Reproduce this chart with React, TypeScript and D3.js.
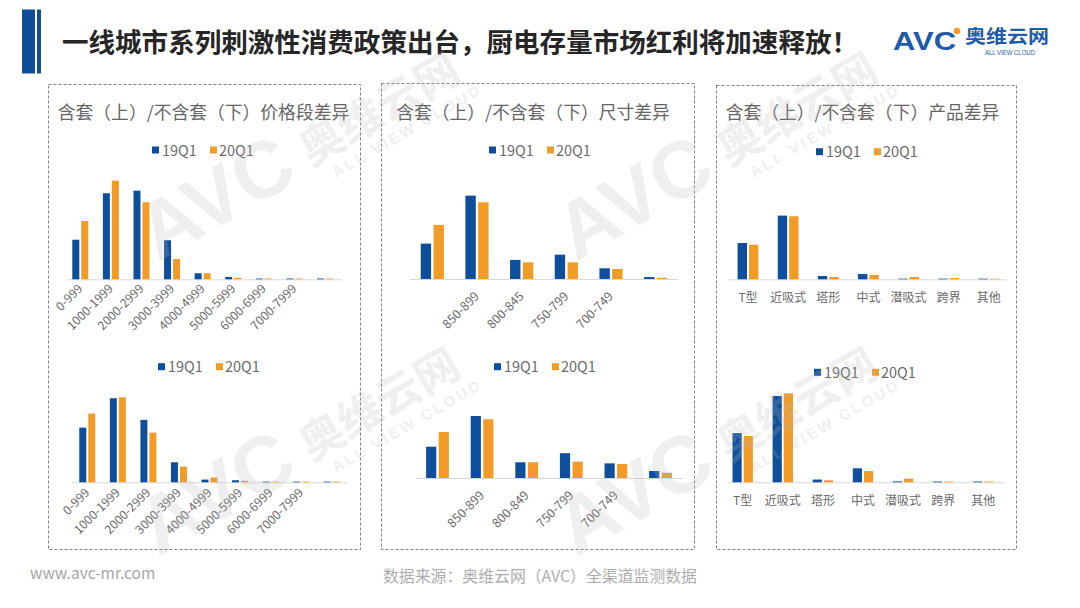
import React from "react";
import * as d3 from "d3";

// ---------- data ----------
const seriesNames = ["19Q1", "20Q1"];

const priceCats = ["0-999", "1000-1999", "2000-2999", "3000-3999", "4000-4999", "5000-5999", "6000-6999", "7000-7999", ""];
const priceTop19 = [15.0, 32.6, 33.6, 14.8, 2.3, 0.9, 0.3, 0.3, 0.3];
const priceTop20 = [22.1, 37.4, 29.2, 7.7, 2.3, 0.6, 0.3, 0.3, 0.3];
const priceBottom19 = [24.0, 36.9, 27.4, 8.8, 1.2, 0.9, 0.3, 0.3, 0.3];
const priceBottom20 = [30.2, 37.3, 21.8, 6.9, 2.1, 0.7, 0.3, 0.3, 0.3];

const sizeCatsTop = ["", "850-899", "800-845", "750-799", "700-749", ""];
const sizeCatsBottom = ["", "850-899", "800-849", "750-799", "700-749", ""];
const sizeTop19 = [20.2, 47.6, 10.9, 13.9, 6.1, 1.1];
const sizeTop20 = [30.9, 43.8, 9.5, 9.5, 5.7, 0.7];
const sizeBottom19 = [20.1, 39.8, 10.1, 15.9, 9.4, 4.5];
const sizeBottom20 = [29.5, 37.7, 10.1, 10.5, 9.0, 3.4];

const productCats = ["T型", "近吸式", "塔形", "中式", "潜吸式", "跨界", "其他"];
const productTop19 = [33.0, 57.9, 3.0, 4.8, 0.6, 0.6, 0.6];
const productTop20 = [31.5, 57.3, 2.1, 3.9, 2.1, 1.2, 0.6];
const productBottom19 = [32.0, 56.1, 1.8, 9.1, 0.6, 0.5, 0.5];
const productBottom20 = [30.1, 57.8, 1.3, 7.3, 2.4, 0.5, 0.5];

const mainTitle = "一线城市系列刺激性消费政策出台，厨电存量市场红利将加速释放！";
const panelTitles = ["含套（上）/不含套（下）价格段差异", "含套（上）/不含套（下）尺寸差异", "含套（上）/不含套（下）产品差异"];
const footerUrl = "www.avc-mr.com";
const footerSource = "数据来源：奥维云网（AVC）全渠道监测数据";

// ---------- styles ----------
const BLUE = "#0E4F9C";
const ORANGE = "#F29B26";
const FONT = "'Noto Sans CJK SC', 'Noto Sans', sans-serif";
const GRAY = "#6b6b6b";

type ChartCfg = {
  cats: string[];
  s1: number[];
  s2: number[];
  yMax: number;
  c1: number;
  cN: number;
  baseline: number;
  barW: number;
  gap: number;
  axis: [number, number];
  legend: [number, number];
  labelMode: "rot" | "flat";
  labelDx: number;
  labelDy: number;
  labelSize: number;
};

function BarChart({ cfg }: { cfg: ChartCfg }) {
  const n = cfg.cats.length;
  const s = (cfg.cN - cfg.c1) / (n - 1);
  const x = d3.scaleBand<number>().domain(d3.range(n)).range([cfg.c1 - s / 2, cfg.cN + s / 2]).padding(0);
  const y = d3.scaleLinear().domain([0, cfg.yMax]).range([cfg.baseline, cfg.baseline - 100]);
  const center = (i: number) => (x(i) as number) + x.bandwidth() / 2;
  const [lx, ly] = cfg.legend;
  return (
    <g>
      <line x1={cfg.axis[0]} x2={cfg.axis[1]} y1={cfg.baseline + 0.5} y2={cfg.baseline + 0.5} stroke="#d9d9d9" strokeWidth={1} />
      {cfg.s1.map((v, i) => (
        <rect key={"a" + i} x={center(i) - cfg.gap / 2 - cfg.barW} y={y(v)} width={cfg.barW} height={cfg.baseline - y(v)} fill={BLUE} />
      ))}
      {cfg.s2.map((v, i) => (
        <rect key={"b" + i} x={center(i) + cfg.gap / 2} y={y(v)} width={cfg.barW} height={cfg.baseline - y(v)} fill={ORANGE} />
      ))}
      {cfg.cats.map((c, i) =>
        cfg.labelMode === "rot" ? (
          <text key={"l" + i} transform={`translate(${center(i) + cfg.labelDx},${cfg.baseline + cfg.labelDy}) rotate(-45)`} textAnchor="end" fontSize={cfg.labelSize} fill={GRAY} fontFamily={FONT}>
            {c}
          </text>
        ) : (
          <text key={"l" + i} x={center(i)} y={cfg.baseline + cfg.labelDy} textAnchor="middle" fontSize={cfg.labelSize} fill={GRAY} fontFamily={FONT}>
            {c}
          </text>
        )
      )}
      <rect x={lx} y={ly - 3.5} width={7} height={7} fill={BLUE} />
      <text x={lx + 10} y={ly + 5.5} fontSize={14.5} fill={GRAY} fontFamily={FONT}>{seriesNames[0]}</text>
      <rect x={lx + 58} y={ly - 3.5} width={7} height={7} fill={ORANGE} />
      <text x={lx + 67} y={ly + 5.5} fontSize={14.5} fill={GRAY} fontFamily={FONT}>{seriesNames[1]}</text>
    </g>
  );
}

const charts: ChartCfg[] = [
  { cats: priceCats, s1: priceTop19, s2: priceTop20, yMax: 37.9, c1: 80.3, cN: 325, baseline: 279.3, barW: 7, gap: 2, axis: [67, 342], legend: [152, 150], labelMode: "rot", labelDx: 3, labelDy: 10, labelSize: 12.3 },
  { cats: priceCats, s1: priceBottom19, s2: priceBottom20, yMax: 43.9, c1: 87.3, cN: 331.7, baseline: 482.3, barW: 7, gap: 2, axis: [72, 348], legend: [158, 366.7], labelMode: "rot", labelDx: 3, labelDy: 11, labelSize: 12.3 },
  { cats: sizeCatsTop, s1: sizeTop19, s2: sizeTop20, yMax: 57.1, c1: 432.3, cN: 655.7, baseline: 279, barW: 10.4, gap: 2.4, axis: [410, 678], legend: [489, 150], labelMode: "rot", labelDx: 3, labelDy: 18, labelSize: 12.5 },
  { cats: sizeCatsBottom, s1: sizeBottom19, s2: sizeBottom20, yMax: 64.2, c1: 437.5, cN: 660.5, baseline: 478, barW: 10.2, gap: 2.4, axis: [416, 683], legend: [494, 366.7], labelMode: "rot", labelDx: 3, labelDy: 18, labelSize: 12.5 },
  { cats: productCats, s1: productTop19, s2: productTop20, yMax: 90.9, c1: 748, cN: 988.8, baseline: 279.3, barW: 9.4, gap: 2, axis: [729, 1007], legend: [816, 151.7], labelMode: "flat", labelDx: 0, labelDy: 23, labelSize: 12 },
  { cats: productCats, s1: productBottom19, s2: productBottom20, yMax: 65, c1: 742.7, cN: 983.3, baseline: 482.3, barW: 9.2, gap: 2, axis: [729, 1005], legend: [814, 372.3], labelMode: "flat", labelDx: 0, labelDy: 23, labelSize: 12 },
];

const panels = [
  { x0: 48, y0: 84, x1: 360, y1: 549, tx: 203.5 },
  { x0: 381, y0: 83, x1: 694, y1: 549, tx: 533 },
  { x0: 716, y0: 85, x1: 1016, y1: 549, tx: 862.5 },
];

const watermarkOffsets: [number, number][] = [
  [0, 0],
  [418, 0],
  [0, 295],
  [418, 295],
];

function Watermark({ dx, dy }: { dx: number; dy: number }) {
  return (
    <g transform={`translate(${dx + 158},${dy + 262}) rotate(-30)`} fill="#b8b8b8" opacity={0.22}>
      <text x={0} y={0} fontSize={80} fontWeight="bold" fontFamily="'Liberation Sans', sans-serif" textLength={165} lengthAdjust="spacingAndGlyphs">AVC</text>
      <text x={180} y={-6} fontSize={44} fontWeight="bold" fontFamily={FONT}>奥维云网</text>
      <text x={196} y={16} fontSize={15} fontWeight="bold" fontFamily="'Liberation Sans', sans-serif" letterSpacing={3}>ALL VIEW CLOUD</text>
    </g>
  );
}

export default function App() {
  return (
    <svg width={1080} height={608} style={{ position: "absolute", left: 0, top: 0 }} fontFamily={FONT}>
      <rect x={0} y={0} width={1080} height={608} fill="#ffffff" />
      {/* header */}
      <rect x={22} y={9.5} width={13} height={64} fill="#0F4C99" />
      <rect x={37} y={9.5} width={4} height={64} fill="#0F4C99" />
      <text x={62} y={52} fontSize={26.5} fontWeight="bold" fill="#262626" fontFamily={FONT} textLength={796} lengthAdjust="spacingAndGlyphs">{mainTitle}</text>
      {/* logo */}
      <text x={893} y={50} fontSize={26} fontWeight="bold" fill="#1E5BA8" fontFamily="'Liberation Sans', sans-serif" textLength={63} lengthAdjust="spacingAndGlyphs">AVC</text>
      <circle cx={957} cy={31} r={3.2} fill={ORANGE} />
      <text x={965} y={43} fontSize={18} fontWeight="bold" fill="#1E5BA8" fontFamily={FONT} textLength={84} lengthAdjust="spacingAndGlyphs">奥维云网</text>
      <text x={985} y={55} fontSize={6.5} fill="#1E5BA8" fontFamily="'Liberation Sans', sans-serif" textLength={50} lengthAdjust="spacingAndGlyphs">ALL VIEW CLOUD</text>
      {/* panels */}
      {panels.map((p, i) => (
        <g key={i}>
          <rect x={p.x0 + 0.5} y={p.y0 + 0.5} width={p.x1 - p.x0} height={p.y1 - p.y0} fill="none" stroke="#7f7f7f" strokeWidth={1} strokeDasharray="3 2" />
          <text x={p.tx} y={119} textAnchor="middle" fontSize={17.8} fill="#666666" fontFamily={FONT}>{panelTitles[i]}</text>
        </g>
      ))}
      {charts.map((c, i) => (
        <BarChart key={i} cfg={c} />
      ))}
      {watermarkOffsets.map(([dx, dy], i) => (
        <Watermark key={i} dx={dx} dy={dy} />
      ))}
      {/* footer */}
      <text x={30} y={579} fontSize={15.5} fill="#a6a6a6" fontFamily={FONT}>{footerUrl}</text>
      <text x={383} y={582} fontSize={16} fill="#adadad" fontFamily={FONT} textLength={314} lengthAdjust="spacingAndGlyphs">{footerSource}</text>
    </svg>
  );
}
